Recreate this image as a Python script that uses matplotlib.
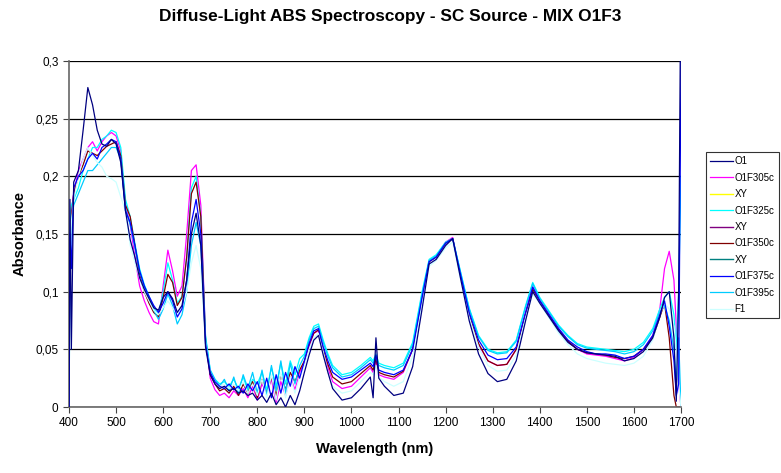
import matplotlib
matplotlib.use("Agg")
import matplotlib.pyplot as plt
from matplotlib.ticker import FuncFormatter

plt.rcParams['font.family'] = ['Liberation Sans', 'DejaVu Sans']

wavelength = [400, 402, 405, 410, 420, 430, 440, 450, 460, 470,
              480, 490, 500, 510, 520, 530, 540, 550, 560, 570,
              580, 590, 600, 610, 620, 630, 640, 650, 660, 670,
              680, 690, 700, 710, 720, 730, 740, 750, 760, 770,
              780, 790, 800, 810, 820, 830, 840, 850, 860, 870,
              880, 890, 900, 910, 920, 930, 940, 950, 960, 980,
              1000, 1020, 1040, 1046, 1052, 1058, 1070, 1090, 1110, 1130,
              1150, 1165, 1180, 1200, 1215, 1230, 1250, 1270, 1290, 1310,
              1330, 1350, 1370, 1385, 1400, 1420, 1440, 1460, 1480, 1500,
              1520, 1540, 1560, 1580, 1600, 1620, 1640, 1655, 1665, 1675,
              1685, 1690, 1695, 1700]

o1 = [0.000, 0.180, 0.050, 0.195, 0.205, 0.240, 0.277, 0.262, 0.240, 0.228,
      0.226, 0.232, 0.228, 0.212, 0.170, 0.145, 0.130, 0.112, 0.102, 0.094,
      0.086, 0.084, 0.095, 0.100, 0.094, 0.082, 0.088, 0.110, 0.150, 0.168,
      0.140, 0.052, 0.028, 0.020, 0.016, 0.018, 0.014, 0.016, 0.012, 0.014,
      0.010, 0.012, 0.006, 0.010, 0.004, 0.012, 0.002, 0.008, 0.000, 0.010,
      0.002, 0.014, 0.030, 0.045, 0.058, 0.062, 0.045, 0.030, 0.016, 0.006,
      0.008, 0.016, 0.026, 0.008, 0.060, 0.025, 0.018, 0.010, 0.012, 0.035,
      0.085, 0.124, 0.128, 0.140, 0.146, 0.115, 0.075, 0.046, 0.029, 0.022,
      0.024, 0.040, 0.075, 0.100, 0.090, 0.078, 0.066, 0.056, 0.050, 0.047,
      0.046, 0.045, 0.044, 0.040, 0.042, 0.048, 0.060, 0.078, 0.095, 0.100,
      0.060, 0.005, 0.100, 0.400]

o1f305c = [0.000, 0.140, 0.170, 0.185, 0.205, 0.215, 0.225, 0.230, 0.222, 0.230,
           0.235, 0.238, 0.235, 0.222, 0.175, 0.158, 0.130, 0.105, 0.092, 0.082,
           0.074, 0.072, 0.105, 0.136, 0.118, 0.096, 0.105, 0.150, 0.205, 0.210,
           0.175, 0.060, 0.025, 0.015, 0.010, 0.012, 0.008, 0.014, 0.010, 0.016,
           0.008, 0.018, 0.006, 0.020, 0.012, 0.024, 0.004, 0.022, 0.010, 0.026,
           0.015, 0.030, 0.038, 0.052, 0.064, 0.066, 0.048, 0.034, 0.022, 0.016,
           0.018, 0.026, 0.034, 0.030, 0.040, 0.028, 0.026, 0.024, 0.030, 0.050,
           0.096, 0.127, 0.131, 0.143, 0.147, 0.118, 0.080, 0.054, 0.040, 0.036,
           0.037, 0.050, 0.082, 0.104, 0.093, 0.080, 0.068, 0.057, 0.050, 0.046,
           0.045, 0.044, 0.042, 0.040, 0.043, 0.050, 0.062, 0.085, 0.120, 0.135,
           0.110, 0.070, 0.020, 0.000]

o1f325c = [0.000, 0.160, 0.175, 0.180, 0.190, 0.205, 0.215, 0.225, 0.225, 0.232,
           0.235, 0.240, 0.238, 0.225, 0.180, 0.165, 0.142, 0.120, 0.106, 0.096,
           0.086, 0.080, 0.100, 0.125, 0.110, 0.090, 0.096, 0.130, 0.190, 0.200,
           0.165, 0.062, 0.032, 0.024, 0.020, 0.022, 0.018, 0.024, 0.016, 0.026,
           0.014, 0.024, 0.020, 0.030, 0.015, 0.034, 0.018, 0.038, 0.020, 0.040,
           0.028, 0.042, 0.046, 0.060, 0.070, 0.072, 0.058, 0.046, 0.036, 0.028,
           0.030, 0.036, 0.043, 0.040, 0.046, 0.038, 0.036, 0.034, 0.038, 0.056,
           0.100, 0.128, 0.132, 0.143, 0.146, 0.120, 0.086, 0.062, 0.050, 0.047,
           0.048, 0.058, 0.088, 0.108, 0.095, 0.083, 0.071, 0.062, 0.055, 0.052,
           0.051, 0.050, 0.049, 0.048, 0.050, 0.056, 0.068, 0.085, 0.095, 0.100,
           0.080, 0.050, 0.100, 0.200]

o1f350c = [0.000, 0.145, 0.165, 0.185, 0.200, 0.210, 0.222, 0.220, 0.218, 0.222,
           0.226, 0.228, 0.230, 0.218, 0.175, 0.165, 0.140, 0.115, 0.100, 0.090,
           0.082, 0.078, 0.095, 0.115, 0.108, 0.088, 0.095, 0.130, 0.185, 0.195,
           0.165, 0.058, 0.028, 0.020, 0.014, 0.016, 0.012, 0.018, 0.010, 0.020,
           0.012, 0.022, 0.008, 0.024, 0.012, 0.026, 0.010, 0.028, 0.015, 0.030,
           0.022, 0.032, 0.040, 0.054, 0.064, 0.067, 0.050, 0.037, 0.026, 0.020,
           0.022, 0.029, 0.036, 0.032, 0.042, 0.030, 0.028, 0.026, 0.031, 0.050,
           0.095, 0.126, 0.130, 0.142, 0.146, 0.117, 0.080, 0.055, 0.040, 0.036,
           0.037, 0.050, 0.081, 0.102, 0.092, 0.079, 0.067, 0.057, 0.050, 0.047,
           0.046, 0.045, 0.043, 0.042, 0.044, 0.050, 0.060, 0.078, 0.090, 0.060,
           0.010, 0.000, 0.000, 0.000]

o1f375c = [0.000, 0.150, 0.120, 0.190, 0.200, 0.205, 0.215, 0.220, 0.215, 0.225,
           0.228, 0.232, 0.230, 0.215, 0.170, 0.160, 0.140, 0.118, 0.105, 0.096,
           0.088, 0.082, 0.090, 0.100, 0.092, 0.078, 0.085, 0.110, 0.160, 0.180,
           0.150, 0.055, 0.030, 0.022, 0.018, 0.016, 0.020, 0.015, 0.018, 0.012,
           0.020, 0.014, 0.022, 0.010, 0.025, 0.008, 0.028, 0.012, 0.030, 0.018,
           0.035, 0.025, 0.040, 0.055, 0.066, 0.068, 0.052, 0.040, 0.030, 0.024,
           0.026, 0.032, 0.038, 0.035, 0.045, 0.032, 0.030, 0.028, 0.032, 0.050,
           0.095, 0.126, 0.130, 0.142, 0.146, 0.118, 0.082, 0.058, 0.045, 0.041,
           0.042, 0.052, 0.082, 0.104, 0.092, 0.080, 0.068, 0.058, 0.052, 0.048,
           0.046, 0.046, 0.045, 0.042, 0.044, 0.050, 0.062, 0.080, 0.092, 0.070,
           0.040, 0.010, 0.020, 0.300]

o1f395c = [0.000, 0.100, 0.160, 0.175, 0.185, 0.195, 0.205, 0.205, 0.210, 0.215,
           0.220, 0.225, 0.225, 0.215, 0.172, 0.158, 0.138, 0.118, 0.104, 0.094,
           0.084, 0.076, 0.085, 0.098, 0.088, 0.072, 0.080, 0.100, 0.140, 0.160,
           0.140, 0.060, 0.032, 0.024, 0.018, 0.024, 0.014, 0.026, 0.012, 0.028,
           0.016, 0.030, 0.012, 0.032, 0.010, 0.036, 0.014, 0.040, 0.012, 0.038,
           0.020, 0.036, 0.044, 0.058, 0.068, 0.070, 0.056, 0.044, 0.034, 0.026,
           0.028, 0.034, 0.041, 0.038, 0.044, 0.036, 0.034, 0.032, 0.036, 0.054,
           0.098, 0.127, 0.131, 0.142, 0.146, 0.120, 0.085, 0.061, 0.049, 0.046,
           0.047, 0.057, 0.087, 0.107, 0.094, 0.082, 0.070, 0.061, 0.054, 0.051,
           0.050, 0.049, 0.048, 0.046, 0.048, 0.054, 0.066, 0.082, 0.088, 0.075,
           0.050, 0.020, 0.060, 0.000]

f1 = [0.000, 0.120, 0.160, 0.180, 0.200, 0.215, 0.225, 0.218, 0.212, 0.208,
      0.200, 0.198, 0.195, 0.182, 0.170, 0.140, 0.125, 0.112, 0.100, 0.092,
      0.084, 0.080, 0.086, 0.092, 0.086, 0.080, 0.086, 0.100, 0.125, 0.140,
      0.120, 0.055, 0.030, 0.022, 0.018, 0.020, 0.016, 0.020, 0.014, 0.022,
      0.012, 0.020, 0.010, 0.024, 0.008, 0.028, 0.006, 0.030, 0.008, 0.026,
      0.012, 0.026, 0.036, 0.050, 0.060, 0.064, 0.048, 0.030, 0.018, 0.012,
      0.014, 0.022, 0.030, 0.028, 0.036, 0.026, 0.022, 0.018, 0.022, 0.044,
      0.090, 0.122, 0.127, 0.138, 0.143, 0.114, 0.078, 0.052, 0.036, 0.031,
      0.032, 0.045, 0.078, 0.098, 0.090, 0.077, 0.064, 0.054, 0.046, 0.042,
      0.040, 0.038, 0.037, 0.036, 0.038, 0.044, 0.058, 0.080, 0.090, 0.085,
      0.070, 0.050, 0.020, 0.000]

xy = []  # empty "XY" series shown only in the legend

series_names = ["O1", "O1F305c", "XY", "O1F325c", "XY", "O1F350c", "XY",
                "O1F375c", "O1F395c", "F1"]
series_values = [o1, o1f305c, xy, o1f325c, xy, o1f350c, xy, o1f375c, o1f395c, f1]
series_colors = ["#000080", "#FF00FF", "#FFFF00", "#00FFFF", "#800080",
                 "#800000", "#008080", "#0000FF", "#00CCFF", "#CCFFFF"]

x_ticks = [400, 500, 600, 700, 800, 900, 1000, 1100, 1200, 1300, 1400, 1500, 1600, 1700]
y_ticks = [0, 0.05, 0.1, 0.15, 0.2, 0.25, 0.3]

fig = plt.figure(figsize=(7.81, 4.73), dpi=100)
ax = fig.add_axes([69/781, (473-407)/473, (681-69)/781, (407-61)/473])

handles = []
for name, vals, col in zip(series_names, series_values, series_colors):
    if len(vals) == 0:
        h, = ax.plot([], [], color=col, lw=1.0, label=name)
    else:
        h, = ax.plot(wavelength, vals, color=col, lw=0.9, label=name)
    handles.append(h)
handles[0].set_zorder(3)
handles[7].set_zorder(2.9)

ax.set_xlim(400, 1700)
ax.set_ylim(0, 0.3)
ax.set_xticks(x_ticks)
ax.set_yticks(y_ticks)
ax.yaxis.set_major_formatter(FuncFormatter(lambda v, p: ("%g" % v).replace(".", ",")))
ax.tick_params(labelsize=8.5, length=4, width=0.8, direction='out', colors='#444444',
               labelcolor='black')
ax.grid(axis='y', color='black', lw=0.9)
ax.set_axisbelow(True)
for s in ['top', 'right']:
    ax.spines[s].set_visible(False)
for s in ['left', 'bottom']:
    ax.spines[s].set_color('#666666')
    ax.spines[s].set_linewidth(1.2)

ax.set_xlabel("Wavelength (nm)", fontsize=10.5, fontweight='bold', labelpad=9)
ax.set_ylabel("Absorbance", fontsize=10.5, fontweight='bold', labelpad=6)
fig.text(0.5, 1 - 17/473, "Diffuse-Light ABS Spectroscopy - SC Source - MIX O1F3",
         ha='center', va='center', fontsize=12.4, fontweight='bold')

leg = fig.legend(handles=handles, loc='upper left',
                 bbox_to_anchor=(706/781, 1 - 152/473), fontsize=7,
                 frameon=True, fancybox=False, edgecolor='black',
                 handlelength=2.3, handletextpad=0.2, labelspacing=0.66,
                 borderpad=0.45, borderaxespad=0)
leg.get_frame().set_linewidth(0.8)

fig.savefig("out.png", dpi=100)
